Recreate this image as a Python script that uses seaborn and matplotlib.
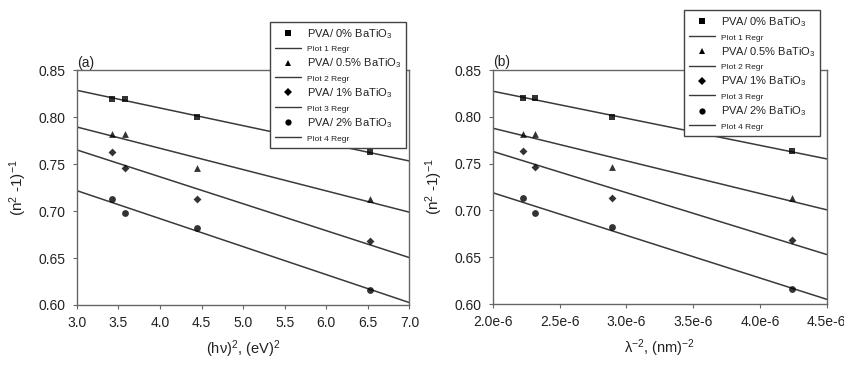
import numpy as np
import pandas as pd
import matplotlib
matplotlib.use("Agg")
import matplotlib.pyplot as plt
from matplotlib.lines import Line2D
from matplotlib.ticker import FixedLocator, FuncFormatter
import seaborn as sns

# ---- data ----
series_labels = ["PVA/ 0% BaTiO$_3$", "PVA/ 0.5% BaTiO$_3$", "PVA/ 1% BaTiO$_3$", "PVA/ 2% BaTiO$_3$"]
regr_labels = ["Plot 1 Regr", "Plot 2 Regr", "Plot 3 Regr", "Plot 4 Regr"]
markers = ["s", "^", "D", "o"]
marker_sizes = [22, 24, 16, 24]

hv2 = [3.43, 3.58, 4.44, 6.52]              # (h nu)^2, eV^2
inv_lambda2 = [2.23e-6, 2.32e-6, 2.89e-6, 4.24e-6]  # lambda^-2, nm^-2

y_a = {
    "0%":   [0.820, 0.820, 0.800, 0.763],
    "0.5%": [0.782, 0.782, 0.7465, 0.713],
    "1%":   [0.763, 0.746, 0.713, 0.668],
    "2%":   [0.713, 0.698, 0.6825, 0.616],
}
y_b = {
    "0%":   [0.820, 0.820, 0.800, 0.763],
    "0.5%": [0.782, 0.782, 0.746, 0.713],
    "1%":   [0.763, 0.746, 0.713, 0.668],
    "2%":   [0.713, 0.697, 0.682, 0.616],
}
yticks = [0.60, 0.65, 0.70, 0.75, 0.80, 0.85]
xticks_a = [3.0, 3.5, 4.0, 4.5, 5.0, 5.5, 6.0, 6.5, 7.0]
xticks_b = [2.0e-6, 2.5e-6, 3.0e-6, 3.5e-6, 4.0e-6, 4.5e-6]

# ---- style ----
sns.set_style("ticks")
plt.rcParams["font.family"] = ["Liberation Sans", "DejaVu Sans"]
plt.rcParams["mathtext.fontset"] = "custom"
plt.rcParams["mathtext.rm"] = "Liberation Sans"
plt.rcParams["mathtext.it"] = "Liberation Sans:italic"
plt.rcParams["mathtext.bf"] = "Liberation Sans:bold"
plt.rcParams["mathtext.default"] = "regular"

TEXT = "#222222"
SPINE = "#666666"
LINE = "#3a3a3a"

fig = plt.figure(figsize=(8.45, 3.65), dpi=100)
ax_a = fig.add_axes([0.0908, 0.1644, 0.3938, 0.6425])
ax_b = fig.add_axes([0.5831, 0.1671, 0.3953, 0.6411])

keys = ["0%", "0.5%", "1%", "2%"]


def draw(ax, xs, ys, xlim, xticks, fmt, xlabel, tag):
    ax.set_xlim(*xlim)
    ax.set_ylim(0.60, 0.85)
    for k, m, s in zip(keys, markers, marker_sizes):
        df = pd.DataFrame({"x": xs, "y": ys[k]})
        sns.regplot(data=df, x="x", y="y", ax=ax, ci=None, truncate=False,
                    marker=m, color="black",
                    scatter_kws={"s": s, "linewidths": 0, "zorder": 3},
                    line_kws={"color": LINE, "lw": 1.1, "zorder": 2})
    ax.set_xlim(*xlim)
    ax.set_ylim(0.60, 0.85)
    ax.xaxis.set_major_locator(FixedLocator(xticks))
    ax.xaxis.set_major_formatter(FuncFormatter(fmt))
    ax.yaxis.set_major_locator(FixedLocator(yticks))
    ax.yaxis.set_major_formatter(FuncFormatter(lambda v, p: f"{v:.2f}"))
    ax.tick_params(axis="both", direction="out", length=3, width=0.8,
                   color=SPINE, labelcolor=TEXT, labelsize=10, pad=5,
                   top=False, right=False)
    ax.tick_params(axis="x", pad=5)
    for sp in ax.spines.values():
        sp.set_visible(True)
        sp.set_color(SPINE)
        sp.set_linewidth(1.0)
    ax.set_xlabel(xlabel, fontsize=10.5, color=TEXT, labelpad=6)
    ax.set_ylabel("(n$^2$ -1)$^{-1}$", fontsize=11, color=TEXT, labelpad=7)
    ax.text(0.0, 1.004, tag, transform=ax.transAxes, ha="left", va="bottom",
            fontsize=10, color=TEXT)


draw(ax_a, hv2, y_a, (3.0, 7.0), xticks_a, lambda v, p: f"{v:.1f}",
     "(hν)$^2$, (eV)$^2$", "(a)")
draw(ax_b, inv_lambda2, y_b, (2.0e-6, 4.5e-6), xticks_b,
     lambda v, p: f"{v*1e6:.1f}e-6", "λ$^{-2}$, (nm)$^{-2}$", "(b)")


def add_legend(ax, anchor):
    handles, labels = [], []
    for lab, rl, m in zip(series_labels, regr_labels, markers):
        ms = 4.5 if m != "D" else 3.8
        handles.append(Line2D([], [], ls="none", marker=m, color="black",
                              markersize=ms, markeredgewidth=0))
        labels.append(lab)
        handles.append(Line2D([], [], color=LINE, lw=1.0))
        labels.append(rl)
    leg = ax.legend(handles, labels, loc="upper left", bbox_to_anchor=anchor,
                    bbox_transform=fig.transFigure, fontsize=8,
                    frameon=True, fancybox=False, shadow=False, framealpha=1,
                    edgecolor="#444444", borderpad=0.45, labelspacing=0.28,
                    handlelength=2.3, handletextpad=0.55, borderaxespad=0)
    leg.get_frame().set_linewidth(1.0)
    for i, t in enumerate(leg.get_texts()):
        t.set_color(TEXT)
        if i % 2 == 1:
            t.set_fontsize(6)
    leg.set_zorder(10)
    return leg


add_legend(ax_a, (0.3195, 0.9405))
add_legend(ax_b, (0.8095, 0.9726))

fig.savefig("out.png", dpi=100)
